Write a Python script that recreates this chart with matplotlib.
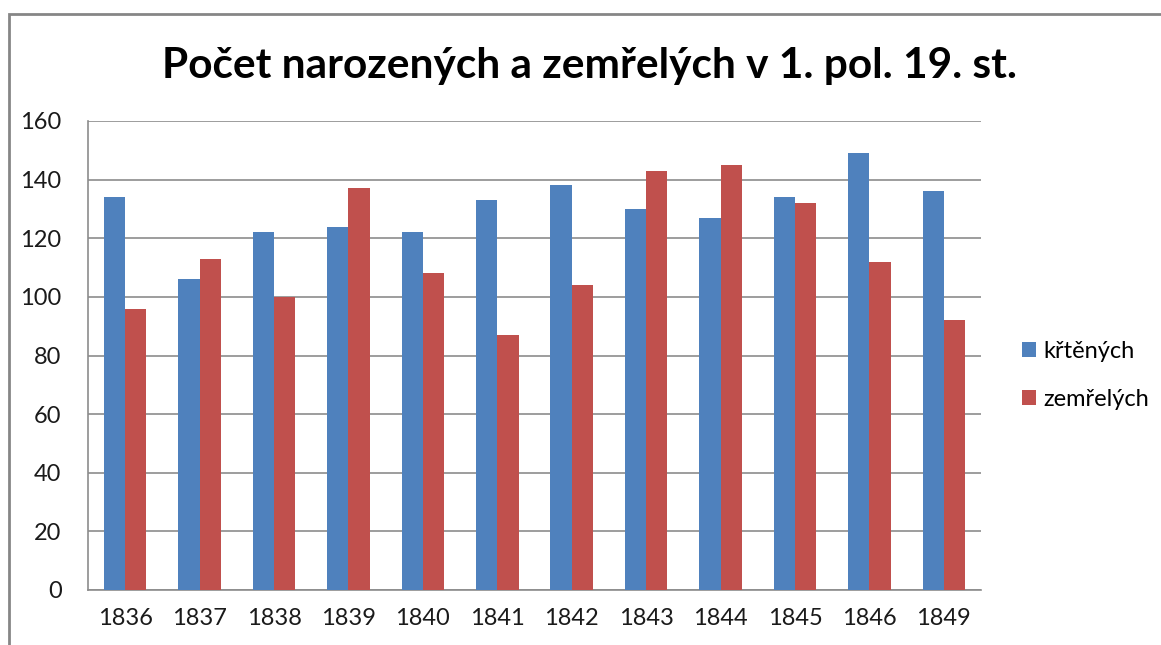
import numpy as np
import matplotlib.pyplot as plt
from matplotlib.patches import Rectangle

years = ['1836', '1837', '1838', '1839', '1840', '1841',
         '1842', '1843', '1844', '1845', '1846', '1849']
krtenych = [134, 106, 122, 124, 122, 133, 138, 130, 127, 134, 149, 136]
zemrelych = [96, 113, 100, 137, 108, 87, 104, 143, 145, 132, 112, 92]
y_ticks = [0, 20, 40, 60, 80, 100, 120, 140, 160]

plt.rcParams['font.family'] = ['Lato', 'DejaVu Sans']

fig = plt.figure(figsize=(11.61, 6.45), dpi=100)
W, H = 1161, 645

# chart frame (cropped on right and bottom in the original)
fig.patches.append(Rectangle((9 / W, -0.1), 1.2, (645 - 14) / H + 0.1,
                             transform=fig.transFigure, fill=False,
                             edgecolor='#868686', linewidth=2))

ax = fig.add_axes([88 / W, 1 - 590 / H, (981 - 88) / W, (590 - 121) / H])

x = np.arange(len(years))
w = 0.285
ax.bar(x - w / 2, krtenych, w, color='#4F81BD', label='křtěných', zorder=3)
ax.bar(x + w / 2, zemrelych, w, color='#C0504D', label='zemřelých', zorder=3)

ax.set_xlim(-0.5, len(years) - 0.5)
ax.set_ylim(0, 160)
ax.set_yticks(y_ticks)
ax.set_xticks(x)
ax.set_xticklabels(years)
ax.tick_params(length=0, labelsize=17, colors='#1a1a1a', pad=13)
ax.tick_params(axis='y', pad=19)
ax.yaxis.grid(True, color='#8c8c8c', linewidth=1.2, zorder=0)

for s in ['top', 'right']:
    ax.spines[s].set_visible(False)
ax.spines['left'].set_color('#8c8c8c')
ax.spines['bottom'].set_color('#8c8c8c')
ax.spines['left'].set_linewidth(1.2)
ax.spines['bottom'].set_linewidth(1.2)

fig.text(590 / W, 1 - 66 / H, 'Počet narozených a zemřelých v 1. pol. 19. st.',
         ha='center', va='center', fontsize=30.5, fontweight='bold')

ax.legend(loc='center left', bbox_to_anchor=(1.022, 0.458), frameon=False,
          fontsize=17, handlelength=0.6, handleheight=0.6,
          handletextpad=0.3, labelspacing=1.15)

fig.savefig('out.png', dpi=100)
